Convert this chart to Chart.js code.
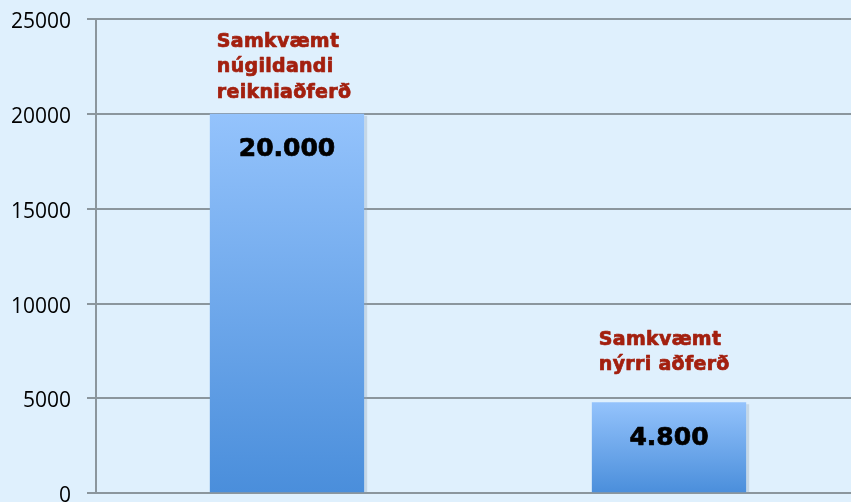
<!DOCTYPE html>
<html>
<head>
<meta charset="utf-8">
<script src="https://cdn.jsdelivr.net/npm/chart.js@4/dist/chart.umd.min.js"></script>
<style>
  html, body { margin: 0; padding: 0; background: #dff0fd; overflow: hidden; }
  #wrap { width: 860px; height: 502px; position: relative; }
</style>
</head>
<body>
<div id="wrap"><canvas id="c"></canvas></div>
<script>
const categories = ["Samkvæmt núgildandi reikniaðferð", "Samkvæmt nýrri aðferð"];
const categoryLines = [["Samkvæmt", "núgildandi", "reikniaðferð"], ["Samkvæmt", "nýrri aðferð"]];
const values = [20000, 4800];
const valueLabels = ["20.000", "4.800"];
const yTicks = [0, 5000, 10000, 15000, 20000, 25000];

// label placement (style only)
const labelGapAbove = [21, 37];

const gridColor = '#8b969d';

function barGradient(ctx) {
  const chart = ctx.chart;
  const area = chart.chartArea;
  if (!area || ctx.dataIndex === undefined) return '#6aa8ec';
  const y = chart.scales.y;
  const top = y.getPixelForValue(values[ctx.dataIndex]);
  const bottom = y.getPixelForValue(0);
  const g = chart.ctx.createLinearGradient(0, top, 0, bottom);
  g.addColorStop(0, '#94c3fc');
  g.addColorStop(1, '#4a8edb');
  return g;
}

const labelPlugin = {
  id: 'barLabels',
  beforeDatasetsDraw(chart) {
    const ctx = chart.ctx;
    const meta = chart.getDatasetMeta(0);
    ctx.save();
    meta.data.forEach(bar => {
      ctx.fillStyle = 'rgba(150,170,185,0.35)';
      ctx.fillRect(bar.x + bar.width / 2, bar.y + 2, 3, bar.base - bar.y - 2);
    });
    ctx.restore();
  },
  afterDatasetsDraw(chart) {
    const ctx = chart.ctx;
    const meta = chart.getDatasetMeta(0);
    ctx.save();
    meta.data.forEach((bar, i) => {
      const left = bar.x - bar.width / 2;
      ctx.font = 'bold 19px "DejaVu Sans"';
      ctx.letterSpacing = '0.3px';
      ctx.fillStyle = '#a3200f';
      ctx.strokeStyle = '#a3200f';
      ctx.lineWidth = 0.7;
      ctx.lineJoin = 'round';
      ctx.textAlign = 'left';
      ctx.textBaseline = 'middle';
      const lines = categoryLines[i];
      const lh = 25.5;
      const lastY = bar.y - labelGapAbove[i];
      lines.forEach((t, k) => {
        const yy = lastY - (lines.length - 1 - k) * lh;
        ctx.fillText(t, left + 7, yy);
        ctx.strokeText(t, left + 7, yy);
      });
      ctx.font = 'bold 25px "DejaVu Sans"';
      ctx.letterSpacing = '0px';
      ctx.fillStyle = '#000';
      ctx.strokeStyle = '#000';
      ctx.lineWidth = 0.7;
      ctx.textAlign = 'center';
      ctx.fillText(valueLabels[i], bar.x, bar.y + 36);
      ctx.strokeText(valueLabels[i], bar.x, bar.y + 36);
    });
    ctx.restore();
  }
};

new Chart(document.getElementById('c'), {
  type: 'bar',
  data: {
    labels: categories,
    datasets: [{
      data: values,
      backgroundColor: barGradient,
      borderWidth: 0,
      barPercentage: 0.404,
      categoryPercentage: 1
    }]
  },
  options: {
    responsive: true,
    maintainAspectRatio: false,
    animation: false,
    layout: { padding: { top: 19, bottom: 8.7, left: 0, right: 0 } },
    plugins: { legend: { display: false }, tooltip: { enabled: false } },
    scales: {
      x: { display: false },
      y: {
        min: 0,
        max: 25000,
        afterBuildTicks(scale) { scale.ticks = yTicks.map(v => ({ value: v })); },
        afterFit(scale) { scale.width = 96; scale.paddingTop = 0; scale.paddingBottom = 0; },
        ticks: {
          color: '#000',
          font: { family: 'Open Sans', size: 21 },
          padding: 16,
          labelOffset: 3,
          callback: v => String(v)
        },
        grid: { color: gridColor, lineWidth: 2, tickLength: 9, drawTicks: true },
        border: { color: gridColor, width: 2 }
      }
    }
  },
  plugins: [labelPlugin]
});
</script>
</body>
</html>
